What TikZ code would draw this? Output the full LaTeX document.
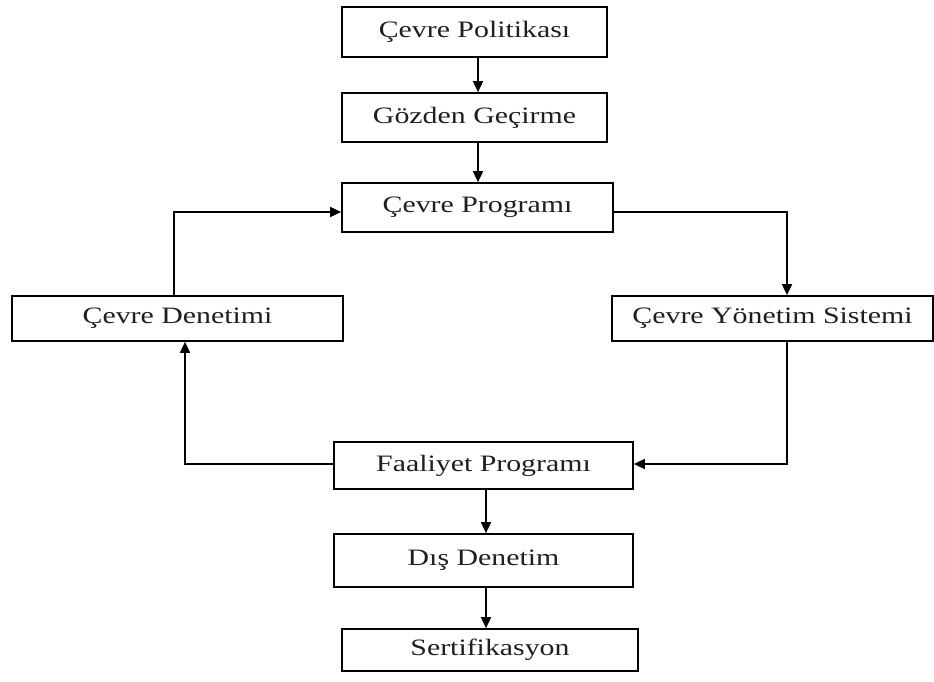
\documentclass[tikz,border=0pt]{standalone}
\usepackage{fontspec}
\setmainfont{Liberation Serif}
\usetikzlibrary{arrows.meta}
% wide lettering used in every box
\newcommand\widetext[1]{\scalebox{1.27}[1]{#1}}
\begin{document}
\begin{tikzpicture}[x=1pt,y=-1pt,
  box/.style={draw,line width=1.7pt,inner sep=0pt,text=black!88,font=\fontsize{23.5}{26}\selectfont},
  flow/.style={line width=1.7pt,-{Triangle[length=11pt,width=10pt]}}]
\useasboundingbox (0,0) rectangle (934,682);
% boxes
\node[box,minimum width=265,minimum height=50] (pol) at (474.5,32) {\widetext{Çevre Politikası}};
\node[box,minimum width=265,minimum height=49] (goz) at (474.5,117.5) {\widetext{Gözden Geçirme}};
\node[box,minimum width=271,minimum height=49] (prog) at (477.5,207.5) {\widetext{Çevre Programı}};
\node[box,minimum width=331,minimum height=45] (den) at (177.5,318.5) {\widetext{Çevre Denetimi}};
\node[box,minimum width=321,minimum height=45] (yon) at (772.5,318.5) {\widetext{Çevre Yönetim Sistemi}};
\node[box,minimum width=299,minimum height=47] (faa) at (483.5,465.5) {\widetext{Faaliyet Programı}};
\node[box,minimum width=299,minimum height=53] (dis) at (483.5,560.5) {\widetext{Dış Denetim}};
\node[box,minimum width=296,minimum height=42] (ser) at (490,650) {\widetext{Sertifikasyon}};
% connectors
\draw[flow] ([xshift=3.5pt]pol.south) -- ([xshift=3.5pt]pol.south |- goz.north);
\draw[flow] ([xshift=3.5pt]goz.south) -- ([xshift=3.5pt]goz.south |- prog.north);
\draw[flow] ([xshift=-3.5pt]den.north) |- ([yshift=-4.5pt]prog.west);
\draw[flow] ([yshift=-4.5pt]prog.east) -| ([xshift=14.5pt]yon.north);
\draw[flow] ([xshift=14.5pt]yon.south) |- ([yshift=1.5pt]faa.east);
\draw[flow] ([yshift=1.5pt]faa.west) -| ([xshift=7.5pt]den.south);
\draw[flow] ([xshift=2.5pt]faa.south) -- ([xshift=2.5pt]faa.south |- dis.north);
\draw[flow] ([xshift=2.5pt]dis.south) -- ([xshift=2.5pt]dis.south |- ser.north);
\end{tikzpicture}
\end{document}
